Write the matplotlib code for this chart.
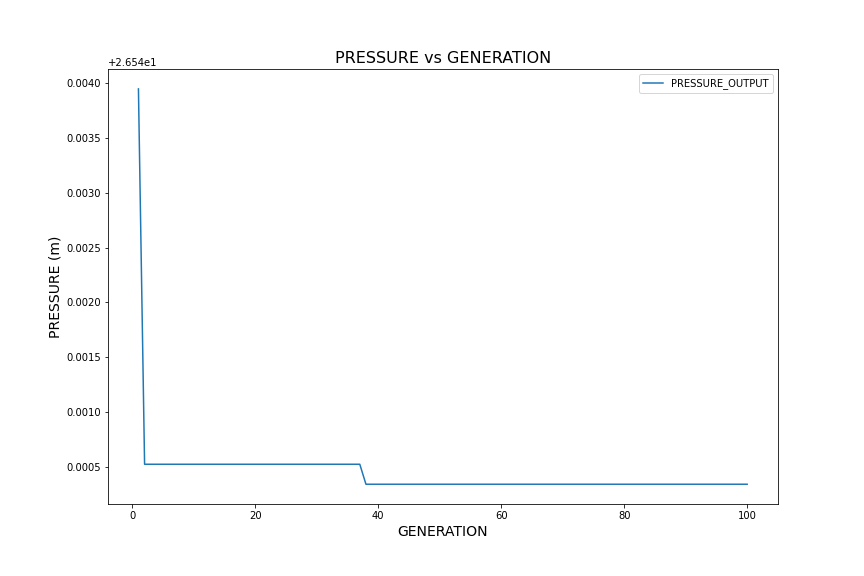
import matplotlib
matplotlib.use("Agg")
import matplotlib.pyplot as plt
import numpy as np

generations = list(range(1, 101))
first_value = 26.543945
plateau1_value = 26.540527
plateau2_value = 26.540345
pressure = [first_value] + [plateau1_value] * 36 + [plateau2_value] * 63

fig, ax = plt.subplots(figsize=(12, 8), dpi=72)
fig.subplots_adjust(left=0.125, right=0.9, top=0.88, bottom=0.125)
ax.plot(generations, pressure, label="PRESSURE_OUTPUT")
ax.set_title("PRESSURE vs GENERATION", fontsize=16)
ax.set_xlabel("GENERATION", fontsize=14)
ax.set_ylabel("PRESSURE (m)", fontsize=14)
ax.legend()
fig.savefig("out.png", dpi=72)
